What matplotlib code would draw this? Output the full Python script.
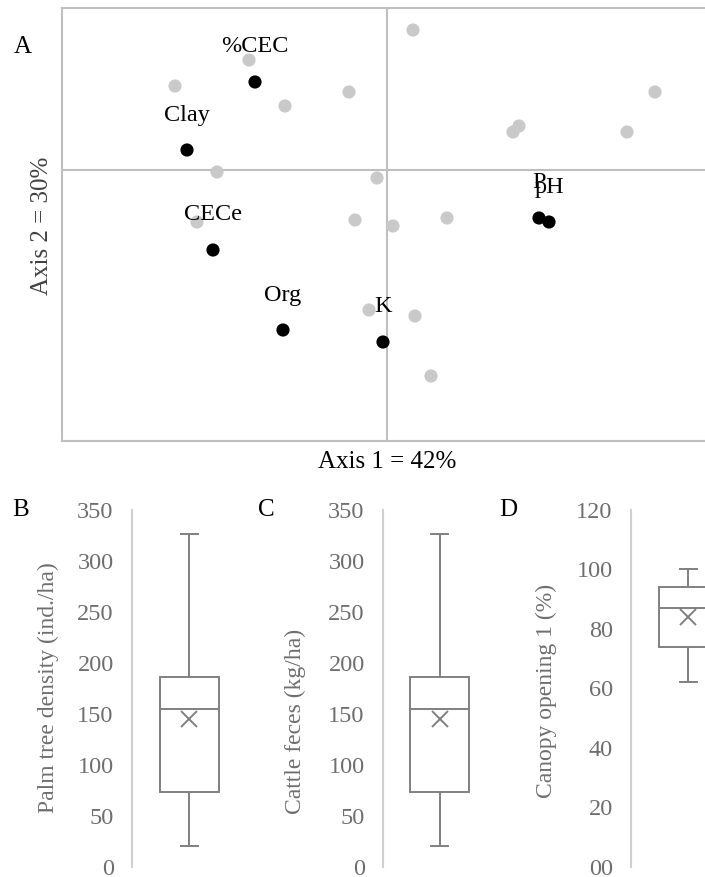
import matplotlib
matplotlib.use("Agg")
import matplotlib.pyplot as plt

plt.rcParams['font.family'] = ['Liberation Serif', 'DejaVu Serif']

# ---------------- data ----------------
# Panel A: ordination scores (sites = grey, variables = black)
site_x = [0.13, -0.69, -1.06, -0.19, -0.51, 1.34, 0.66, 0.63, 1.20,
          -0.85, -0.05, -0.95, -0.16, 0.03, 0.30, -0.09, 0.14, 0.22]
site_y = [0.70, 0.55, 0.42, 0.39, 0.32, 0.39, 0.22, 0.19, 0.19,
          -0.01, -0.04, -0.26, -0.25, -0.28, -0.24, -0.70, -0.73, -1.03]
var_names = ['%CEC', 'Clay', 'CECe', 'Org', 'K', 'P', 'pH']
var_x = [-0.66, -1.00, -0.87, -0.52, -0.02, 0.76, 0.81]
var_y = [0.44, 0.10, -0.40, -0.80, -0.86, -0.24, -0.26]
axis1_label = 'Axis 1 = 42%'
axis2_label = 'Axis 2 = 30%'

# Panels B-D: box plot summaries
box_names = ['B', 'C', 'D']
box_ylabels = ['Palm tree density (ind./ha)', 'Cattle feces (kg/ha)', 'Canopy opening 1 (%)']
box_min = [20, 20, 62]
box_q1 = [73, 73, 74]
box_med = [155, 155, 87]
box_q3 = [186, 186, 94]
box_max = [326, 326, 100]
box_mean = [145, 145, 84]
box_ymax = [350, 350, 120]
box_ticks = [[0, 50, 100, 150, 200, 250, 300, 350],
             [0, 50, 100, 150, 200, 250, 300, 350],
             [0, 20, 40, 60, 80, 100, 120]]
box_ticklabels = [['0', '50', '100', '150', '200', '250', '300', '350'],
                  ['0', '50', '100', '150', '200', '250', '300', '350'],
                  ['00', '20', '40', '60', '80', '100', '120']]

# ---------------- figure ----------------
W, H = 705, 877
fig = plt.figure(figsize=(W / 100, H / 100), dpi=100)

def fx(px):
    return px / W

def fy(py):
    return 1 - py / H

frame_col = '#bfbfbf'
grey_pt = '#c9c9c9'
text_grey = '#6e6e6e'

# Panel A
axA = fig.add_axes([fx(62), fy(440.5), fx(705 - 62), (440.5 - 7.5) / H])
axA.set_xlim(-1.625, 1.59)
axA.set_ylim(-1.3525, 0.8125)
for s in ['left', 'top', 'bottom']:
    axA.spines[s].set_color(frame_col)
    axA.spines[s].set_linewidth(1.5)
axA.spines['right'].set_visible(False)
axA.set_xticks([])
axA.set_yticks([])
axA.axhline(0, color=frame_col, lw=1.5, zorder=1)
axA.axvline(0, color=frame_col, lw=1.5, zorder=1)
axA.scatter(site_x, site_y, s=90, color=grey_pt, edgecolors='none', zorder=2)
axA.scatter(var_x, var_y, s=90, color='black', edgecolors='none', zorder=4)
for name, x, y in zip(var_names, var_x, var_y):
    axA.annotate(name, (x, y), xytext=(0, 25.2), textcoords='offset points',
                 ha='center', va='center', fontsize=17.5, color='black', zorder=5)

fig.text(fx(23), fy(47), 'A', fontsize=18, ha='center', va='center', color='black')
fig.text(fx(387.5), fy(461.7), axis1_label, fontsize=18, ha='center', va='center', color='black')
fig.text(fx(42), fy(226), axis2_label, fontsize=18, ha='center', va='center',
         rotation=90, color='#404040')

# Panels B-D
spine_x = [131.7, 382.7, 630.7]
center_x = [189.3, 440.0, 688.3]
letter_x = [21, 266, 508.5]
ylabel_pos = [(48.3, 687.5), (295, 721.7), (546.7, 690.8)]
y_top, y_bot = 510.0, 866.7

for i in range(3):
    half = center_x[i] - spine_x[i]
    ax = fig.add_axes([fx(spine_x[i]), fy(y_bot), fx(2 * half), (y_bot - y_top) / H])
    ax.set_ylim(0, box_ymax[i])
    ax.set_xlim(0.5, 1.5)
    stats = [{'med': box_med[i], 'q1': box_q1[i], 'q3': box_q3[i],
              'whislo': box_min[i], 'whishi': box_max[i], 'mean': box_mean[i],
              'fliers': []}]
    lc = '#808080'
    ax.bxp(stats, positions=[1], widths=59 / (2 * half), showmeans=True,
           patch_artist=True,
           boxprops=dict(facecolor='white', edgecolor=lc, linewidth=1.4),
           medianprops=dict(color=lc, linewidth=1.4),
           whiskerprops=dict(color=lc, linewidth=1.4),
           capprops=dict(color=lc, linewidth=1.4),
           capwidths=17 / (2 * half),
           meanprops=dict(marker='x', markeredgecolor=lc, markersize=12,
                          markeredgewidth=1.4))
    for s in ['top', 'right', 'bottom']:
        ax.spines[s].set_visible(False)
    ax.spines['left'].set_color('#d0d0d0')
    ax.spines['left'].set_linewidth(1.5)
    ax.set_xticks([])
    ax.set_yticks(box_ticks[i])
    ax.set_yticklabels(box_ticklabels[i])
    ax.tick_params(axis='y', length=0, pad=13, labelsize=17.5, labelcolor=text_grey)
    fig.text(fx(letter_x[i]), fy(510), box_names[i], fontsize=18,
             ha='center', va='center', color='black')
    lx, ly = ylabel_pos[i]
    fig.text(fx(lx), fy(ly), box_ylabels[i], fontsize=17, ha='center', va='center',
             rotation=90, color=text_grey)

fig.savefig('out.png', dpi=100)
